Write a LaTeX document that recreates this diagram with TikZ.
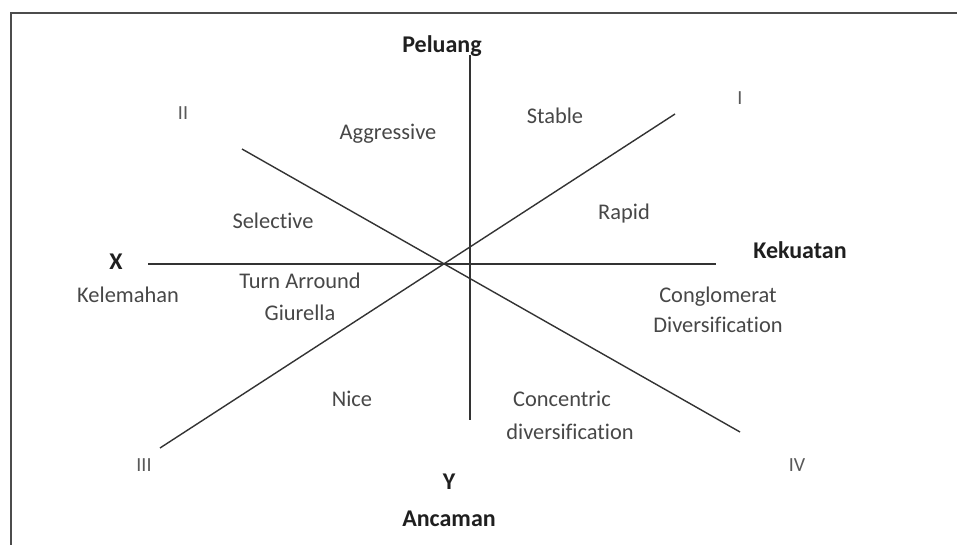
\documentclass[tikz,border=0pt]{standalone}
\usepackage{fontspec}
\setmainfont[Ligatures=NoCommon]{Carlito}
\begin{document}
\begin{tikzpicture}[x=0.5pt,y=-0.5pt,
  axis/.style={draw=black!80, line width=0.7pt},
  frame/.style={draw=black!70, line width=1.1pt},
  lbl/.style={inner sep=0pt, text=black!72, font=\fontsize{11.2}{14}\selectfont, align=center},
  blbl/.style={inner sep=0pt, text=black!88, font=\fontsize{12}{14}\selectfont\bfseries, align=center},
  num/.style={inner sep=0pt, text=black!65, font=\fontsize{10}{12}\selectfont}]
\useasboundingbox (0,0) rectangle (957,545);
\fill[white] (0,0) rectangle (957,545);
% frame (top and left edges)
\coordinate (fa) at (11,545);
\coordinate (fb) at (11,13);
\coordinate (fc) at (957,13);
\draw[frame] (fa) -- (fb) -- (fc);
% axes
\coordinate (vt) at (470,55);
\coordinate (vb) at (470,420);
\coordinate (hl) at (148,264);
\coordinate (hr) at (716,264);
\coordinate (d1a) at (242,149);
\coordinate (d1b) at (740,432);
\coordinate (d2a) at (160,448);
\coordinate (d2b) at (675,114);
\draw[axis] (vt) -- (vb);
\draw[axis] (hl) -- (hr);
\draw[axis] (d1a) -- (d1b);
\draw[axis] (d2a) -- (d2b);
% labels
\node[blbl] (peluang) at (442,46) {Peluang};
\node[blbl] (x) at (116,262) {X};
\node[blbl] (kekuatan) at (800,250) {Kekuatan};
\node[blbl] (y) at (449,482) {Y};
\node[blbl] (ancaman) at (449,519) {Ancaman};
\node[num] (q2) at (183,113) {II};
\node[num] (q1) at (740,98) {I};
\node[num] (q3) at (144,465) {III};
\node[num] (q4) at (797,465) {IV};
\node[lbl] (aggr) at (388,134) {Aggressive};
\node[lbl] (stable) at (555,116) {Stable};
\node[lbl] (sel) at (273,221) {Selective};
\node[lbl] (rapid) at (624,214) {Rapid};
\node[lbl] (kel) at (128,295) {Kelemahan};
\node[lbl] (turn) at (300,281) {Turn Arround};
\node[lbl] (giu) at (300,313) {Giurella};
\node[lbl] (cong) at (718,297) {Conglomerat};
\node[lbl] (div) at (718,325) {Diversification};
\node[lbl] (nice) at (352,399) {Nice};
\node[lbl] (conc) at (562,399) {Concentric};
\node[lbl] (cdiv) at (570,432) {diversification};
\end{tikzpicture}
\end{document}
